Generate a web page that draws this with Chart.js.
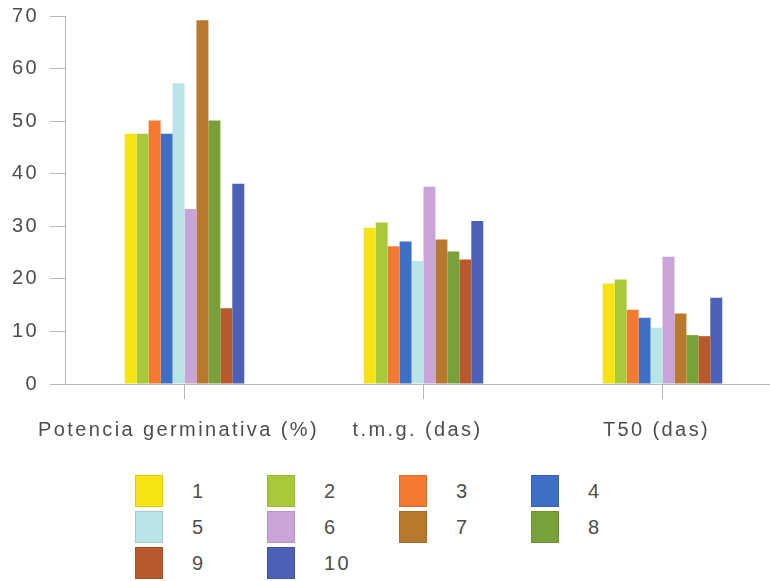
<!doctype html>
<html>
  <head>
    <script src="https://cdn.jsdelivr.net/npm/chart.js@4.4.1/dist/chart.umd.min.js"></script>
    <style>
      body { margin: 0; overflow: hidden; background: #fff; position: relative; width: 770px; height: 581px; }
      #c1 { position: absolute; left: 0; top: -7px; }
      #legend { position: absolute; left: 135px; top: 475px; display: grid;
        grid-template-columns: repeat(4, 132px); grid-auto-rows: 36px;
        font-family: "Liberation Sans", Arial, sans-serif; font-size: 20px; color: #4d4d4d; letter-spacing: 2.4px; }
      .item { display: flex; align-items: flex-start; height: 36px; }
      .box { width: 28px; height: 32px; box-sizing: border-box; border: 1px solid rgba(0,0,0,0.1); }
      .txt { margin-left: 29px; line-height: 32px; }
    </style>
    <script>
      // categories on the x axis
      const categories = ["Potencia germinativa (%)", "t.m.g. (das)", "T50 (das)"];
      // series names and colours
      const seriesNames = ["1", "2", "3", "4", "5", "6", "7", "8", "9", "10"];
      const seriesColors = ["#f6e312", "#a9c93b", "#f47a32", "#3e6fc6", "#b9e5e6",
                            "#c9a4d9", "#b8792f", "#78a13a", "#b95a2c", "#4b60b6"];
      // one row per series: value for each category
      const seriesValues = [
        [47.6, 29.7, 19.1],
        [47.6, 30.7, 19.9],
        [50.1, 26.2, 14.1],
        [47.6, 27.1, 12.6],
        [57.2, 23.4, 10.7],
        [33.3, 37.5, 24.2],
        [69.2, 27.5, 13.4],
        [50.1, 25.2, 9.3],
        [14.4, 23.7, 9.1],
        [38.1, 31.0, 16.4]
      ];
      const yTicks = [0, 10, 20, 30, 40, 50, 60, 70];

      const textColor = "#4d4d4d";
      const lineColor = "#b8b8b8";

      function startPage() {
        const spacing = {
          id: "spacing",
          beforeDraw(chart) { chart.ctx.letterSpacing = "2.4px"; },
          afterDraw(chart) { chart.ctx.letterSpacing = "0px"; }
        };
        new Chart(document.getElementById("c1"), {
          type: "bar",
          data: {
            labels: categories,
            datasets: seriesNames.map((n, i) => ({
              label: n,
              data: seriesValues[i],
              backgroundColor: seriesColors[i],
              borderWidth: 0,
              categoryPercentage: 0.5,
              barPercentage: 1
            }))
          },
          options: {
            responsive: false,
            animation: false,
            layout: { padding: { top: 6, right: 18, bottom: 10, left: 0 } },
            plugins: { legend: { display: false }, tooltip: { enabled: false } },
            scales: {
              x: {
                grid: { offset: false, drawOnChartArea: false, tickLength: 15, color: lineColor },
                border: { color: lineColor },
                ticks: { color: textColor, padding: 19, labelOffset: -6, maxRotation: 0,
                  font: { family: "'Liberation Sans', Arial, sans-serif", size: 20 } }
              },
              y: {
                min: 0, max: 70,
                afterFit(scale) { scale.width = 65; },
                afterBuildTicks(scale) { scale.ticks = yTicks.map(v => ({ value: v })); },
                grid: { drawOnChartArea: false, tickLength: 15, color: lineColor },
                border: { color: lineColor },
                ticks: { color: textColor, padding: 11,
                  font: { family: "'Liberation Sans', Arial, sans-serif", size: 20 } }
              }
            }
          },
          plugins: [spacing]
        });

        const legend = document.getElementById("legend");
        seriesNames.forEach((n, i) => {
          const item = document.createElement("div");
          item.className = "item";
          item.innerHTML = '<div class="box" style="background:' + seriesColors[i] + '"></div><span class="txt">' + n + '</span>';
          legend.appendChild(item);
        });
      }
    </script>
  </head>
  <body onload="startPage()">
    <canvas id="c1" width="800" height="478"></canvas>
    <div id="legend"></div>
  </body>
</html>
